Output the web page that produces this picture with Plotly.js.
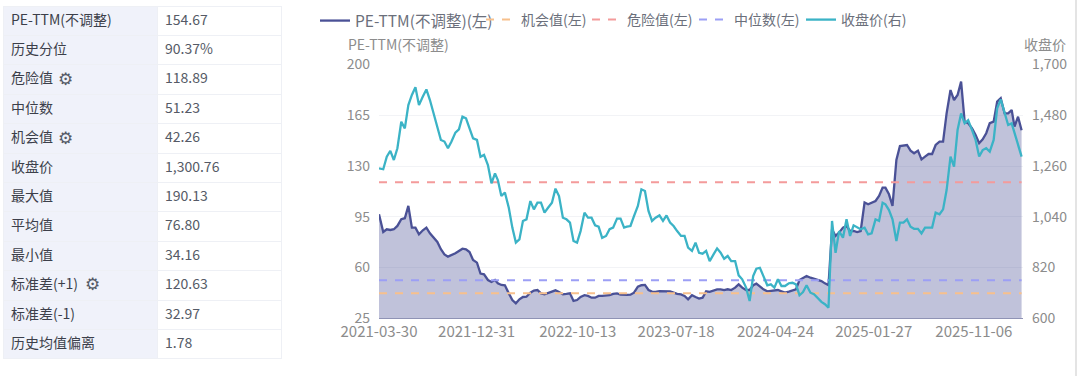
<!DOCTYPE html>
<html><head><meta charset="utf-8">
<script src="https://cdn.plot.ly/plotly-3.0.1.min.js"></script>
<style>html,body{margin:0;padding:0;background:#fff;overflow:hidden}#c{width:1080px;height:376px}</style>
</head><body><div id="c"></div>
<script>
const dates = ["2021-03-30","2021-04-11","2021-04-21",
"2021-05-01","2021-05-11","2021-05-21","2021-06-01","2021-06-11","2021-06-21","2021-07-01","2021-07-11","2021-07-21","2021-08-01","2021-08-11","2021-08-21","2021-09-01","2021-09-11","2021-09-21","2021-10-01","2021-10-11","2021-10-21","2021-11-01","2021-11-11","2021-11-21","2021-12-01","2021-12-11","2021-12-21",
"2022-01-01","2022-01-11","2022-01-21","2022-02-01","2022-02-11","2022-02-21","2022-03-01","2022-03-11","2022-03-21","2022-04-01","2022-04-11","2022-04-21","2022-05-01","2022-05-11","2022-05-21","2022-06-01","2022-06-11","2022-06-21","2022-07-01","2022-07-11","2022-07-21","2022-08-01","2022-08-11","2022-08-21","2022-09-01","2022-09-11","2022-09-21","2022-10-01","2022-10-11","2022-10-21","2022-11-01","2022-11-11","2022-11-21","2022-12-01","2022-12-11","2022-12-21",
"2023-01-01","2023-01-11","2023-01-21","2023-02-01","2023-02-11","2023-02-21","2023-03-01","2023-03-11","2023-03-21","2023-04-01","2023-04-11","2023-04-21","2023-05-01","2023-05-11","2023-05-21","2023-06-01","2023-06-11","2023-06-21","2023-07-01","2023-07-11","2023-07-21","2023-08-01","2023-08-11","2023-08-21","2023-09-01","2023-09-11","2023-09-21","2023-10-01","2023-10-11","2023-10-21","2023-11-01","2023-11-11","2023-11-21","2023-12-01","2023-12-11","2023-12-21",
"2024-01-01","2024-01-11","2024-01-21","2024-02-01","2024-02-11","2024-02-21","2024-03-01","2024-03-11","2024-03-21","2024-04-01","2024-04-11","2024-04-21","2024-05-01","2024-05-11","2024-05-21","2024-06-01","2024-06-11","2024-06-21","2024-07-01","2024-07-11","2024-07-21","2024-08-01","2024-08-11","2024-08-21","2024-09-01","2024-09-11","2024-09-21","2024-10-01","2024-10-11","2024-10-21","2024-11-01","2024-11-11","2024-11-21","2024-12-01","2024-12-11","2024-12-21",
"2025-01-01","2025-01-11","2025-01-21","2025-02-01","2025-02-11","2025-02-21","2025-03-01","2025-03-11","2025-03-21","2025-04-01","2025-04-11","2025-04-21","2025-05-01","2025-05-11","2025-05-21","2025-06-01","2025-06-11","2025-06-21","2025-07-01","2025-07-11","2025-07-21","2025-08-01","2025-08-11","2025-08-21","2025-09-01","2025-09-11","2025-09-21","2025-10-01","2025-10-11","2025-10-21","2025-11-01","2025-11-11","2025-11-21","2025-12-01","2025-12-11","2025-12-21",
"2026-01-01","2026-01-11","2026-01-21","2026-02-01","2026-02-11","2026-02-21","2026-03-01","2026-03-11","2026-03-21"];

const peTtm = [96.7,84.5,86.4,85.9,86.4,88.7,93.3,94,102.5,87.5,87.5,82.9,85.7,87.5,83.6,80.6,77.6,72.6,69.1,67.5,
68.4,69.8,71.4,73,72.6,70.7,65.2,63.4,55.8,55.3,51.4,50.1,51.4,49.1,48,47.8,42.2,37.6,35.3,38.1,
39.7,39.9,42.7,44.1,44.5,42.2,41.5,42.5,43.2,44.3,43.2,41.5,41.8,42.2,37,37.6,39.7,40.9,40.4,39.2,
39.2,40.4,40.4,40.4,40.9,41.8,42.2,41.3,41.1,41.1,41.3,42.7,46.8,47.8,48,44.5,43.4,43.2,43.8,43.6,
43.8,43.6,42.7,41.8,41.5,40.4,38.1,40.9,39.7,38.6,39.2,43.6,43.2,44.1,45,45,44.5,45,44.5,46.1,
48.4,46.1,44.5,44.5,47.8,48.9,46.8,45,43.6,43.8,44.5,44.5,43.6,42.7,43.4,44.1,45,51.4,53,54.2,
53,52.4,51.4,50.7,49.1,47.8,86.4,81.8,84.1,87.5,88.7,85.2,85.2,84.5,85.2,104.8,103.6,104.8,105.9,109.3,
115.1,115.1,110.5,102.5,134.2,143.8,144.1,144.5,140.6,138.8,140.6,134.6,136.5,138.3,138.3,144.5,146.8,146.8,166.3,182.4,
175.5,179,188.2,160.6,159.5,156,151.4,145.7,148.4,152.6,159.5,160.6,174.4,176.7,166.3,166.3,168.6,157.2,164,154.67];

const closePrice = [1250,1246,1300,1326,1286,1337,1452,1423,1524,1568,1601,1524,1561,1592,1546,1488,1431,1373,1366,1337,
1366,1405,1419,1474,1467,1423,1380,1373,1300,1308,1264,1185,1228,1199,1130,1145,1079,993,928,942,
1022,1029,1108,1072,1101,1101,1058,1079,1101,1162,1130,1036,1029,1015,935,928,978,1058,1036,1036,
1003,997,949,957,986,993,1032,1032,993,997,1000,1043,1087,1159,1152,1065,1022,1036,1046,1022,
1046,1015,1000,978,957,957,906,892,928,884,880,892,848,877,903,884,858,870,848,848,
786,769,733,675,783,815,819,783,743,747,733,769,740,740,752,754,747,700,714,743,
711,704,689,671,661,646,1022,884,978,949,1029,957,1003,993,986,993,964,968,1029,1022,
1101,1094,1069,1029,935,1015,1015,1029,997,988,988,968,993,993,993,1058,1051,1072,1156,1301,
1257,1416,1488,1445,1459,1416,1373,1301,1329,1337,1322,1373,1510,1549,1496,1438,1445,1402,1358,1300.76];

const dangerValue = 118.89;
const medianValue = 51.23;
const opportunityValue = 42.26;

const tableLabels = ["历史分位","危险值","中位数","机会值","收盘价","最大值","平均值","最小值","标准差(+1)","标准差(-1)","历史均值偏离"];
const tableValues = ["90.37%","118.89","51.23","42.26","1,300.76","190.13","76.80","34.16","120.63","32.97","1.78"];
const tableHeadLabel = "PE-TTM(不调整)";
const tableHeadValue = "154.67";

const xTicks = ["2021-03-30","2021-12-31","2022-10-13","2023-07-18","2024-04-24","2025-01-27","2025-11-06"];
const leftTicks = [25,60,95,130,165,200];
const rightTicks = [600,820,1040,1260,1480,1700];

const W = 1080, H = 376;
const FONT = '"Noto Sans CJK SC","Noto Sans",sans-serif';
const px = v => v / W, py = v => 1 - v / H;
const flat = v => dates.map(() => v);
const dash = '8px,8px';

const traces = [
  {type:'table', domain:{x:[px(3),px(281)], y:[py(359),py(6)]}, columnwidth:[154,124],
   header:{values:[tableHeadLabel,tableHeadValue], height:29.4, align:'left',
     fill:{color:['#f0f2fa','#ffffff']}, line:{color:'#eef0f5',width:1},
     font:{family:FONT,size:14,color:['#3c3f4a','#555a66']}},
   cells:{values:[tableLabels,tableValues], height:29.4, align:'left',
     fill:{color:['#f0f2fa','#ffffff']}, line:{color:'#eef0f5',width:1},
     font:{family:FONT,size:14,color:['#3c3f4a','#555a66']}}},
  {type:'scatter',mode:'none',x:dates,y:peTtm,xaxis:'x',yaxis:'y',showlegend:false,
   fill:'tozeroy',fillcolor:'rgba(74,81,150,0.35)',hoverinfo:'skip'},
  {type:'scatter',mode:'lines',name:'PE-TTM(不调整)(左)',x:dates,y:peTtm,xaxis:'x',yaxis:'y',
   line:{color:'#4a5196',width:2.3},legend:'legend',hoverinfo:'skip'},
  {type:'scatter',mode:'lines',name:'机会值(左)',x:dates,y:flat(opportunityValue),xaxis:'x',yaxis:'y',
   line:{color:'#f7c08c',width:2,dash:dash},legend:'legend2',hoverinfo:'skip'},
  {type:'scatter',mode:'lines',name:'危险值(左)',x:dates,y:flat(dangerValue),xaxis:'x',yaxis:'y',
   line:{color:'#f49b9b',width:2,dash:dash},legend:'legend3',hoverinfo:'skip'},
  {type:'scatter',mode:'lines',name:'中位数(左)',x:dates,y:flat(medianValue),xaxis:'x',yaxis:'y',
   line:{color:'#9c9ff5',width:2,dash:dash},legend:'legend4',hoverinfo:'skip'},
  {type:'scatter',mode:'lines',name:'收盘价(右)',x:dates,y:closePrice,xaxis:'x',yaxis:'y2',
   line:{color:'#3bb3c6',width:2.3},legend:'legend5',hoverinfo:'skip'}
];

const lg = (x,s) => ({orientation:'h',x:px(x),xanchor:'left',y:py(4),yanchor:'top',bgcolor:'rgba(0,0,0,0)',
  font:{family:FONT,size:s,color:'#6b6f7b'},itemwidth:30,itemclick:false,itemdoubleclick:false});

const gear = (x,y) => ({xref:'paper',yref:'paper',x:px(x),y:py(y),xanchor:'center',yanchor:'middle',showarrow:false,
  text:'⚙',font:{family:'"DejaVu Sans"',size:17,color:'#555a66'}});

const layout = {
  width:W,height:H,margin:{l:0,r:0,t:0,b:0},paper_bgcolor:'#fff',plot_bgcolor:'#fff',
  font:{family:FONT,size:14,color:'#8c8c8c'},showlegend:true,
  legend:lg(315,15.5),legend2:lg(481,14),legend3:lg(587,14),legend4:lg(694,14),legend5:lg(801,14),
  xaxis:{type:'date',domain:[px(379),px(1023)],range:['2021-03-30','2026-03-25'],anchor:'y',
    tickmode:'array',tickvals:xTicks,ticktext:xTicks,showgrid:false,zeroline:false,
    showline:true,linecolor:'#8f93b5',linewidth:1,ticks:'',ticklabelstandoff:0,
    tickfont:{family:FONT,size:15,color:'#8c8c8c'},automargin:false},
  yaxis:{domain:[py(318.3),py(64.5)],range:[25,200],tickmode:'array',tickvals:leftTicks,
    gridcolor:'#f2f3f6',gridwidth:1,zeroline:false,showline:false,ticks:'',ticklabelstandoff:8,
    tickfont:{family:FONT,size:14,color:'#8c8c8c'},automargin:false},
  yaxis2:{overlaying:'y',side:'right',anchor:'x',range:[600,1700],tickmode:'array',tickvals:rightTicks,
    tickformat:',d',showgrid:false,zeroline:false,showline:false,ticks:'',ticklabelstandoff:8,
    tickfont:{family:FONT,size:14,color:'#8c8c8c'},automargin:false},
  annotations:[
    {xref:'paper',yref:'paper',x:px(346),y:py(44.5),xanchor:'left',yanchor:'middle',showarrow:false,
     text:'PE-TTM(不调整)',font:{family:FONT,size:14,color:'#8c8c8c'}},
    {xref:'paper',yref:'paper',x:px(1068),y:py(44.5),xanchor:'right',yanchor:'middle',showarrow:false,
     text:'收盘价',font:{family:FONT,size:14,color:'#8c8c8c'}},
    gear(65,79), gear(65,137.5), gear(92.5,284)
  ],
  shapes:[{type:'line',xref:'paper',yref:'paper',x0:px(1076),x1:px(1076),y0:0,y1:1,line:{color:'#e4e4e4',width:2}}]
};
Plotly.newPlot('c',traces,layout,{displayModeBar:false,staticPlot:true});
</script></body></html>
